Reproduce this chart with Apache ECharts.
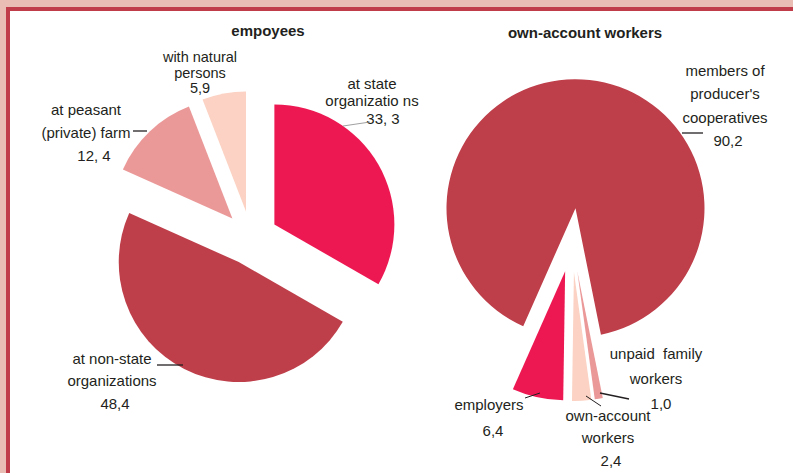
<!DOCTYPE html>
<html>
<head>
<meta charset="utf-8">
<script src="https://cdn.jsdelivr.net/npm/echarts@6/dist/echarts.min.js"></script>
<style>
html,body{margin:0;padding:0;background:#fff;}
#chart{width:793px;height:473px;}
</style>
</head>
<body>
<div id="chart"></div>
<script>
// ---- data ----
const titles = ['empoyees', 'own-account workers'];

const empCategories = ['at state organizations', 'at non-state organizations', 'at peasant (private) farm', 'with natural persons'];
const empValues = [33.3, 48.4, 12.4, 5.9];
const empLabelLines = [['at state', 'organizatio ns'], ['at non-state', 'organizations'], ['at peasant', '(private) farm'], ['with natural', 'persons']];
const empValueSep = [', ', ',', ', ', ','];

const ownCategories = ["members of producer's cooperatives", 'unpaid family workers', 'own-account workers', 'employers'];
const ownValues = [90.2, 1.0, 2.4, 6.4];
const ownLabelLines = [['members of', "producer's", 'cooperatives'], ['unpaid  family', 'workers'], ['own-account', 'workers'], ['employers']];
const ownValueSep = [',', ',', ',', ','];

// ---- styles / layout ----
const empColors = ['#ed1752', '#be3e4a', '#eb9898', '#fbd2c3'];
const ownColors = ['#be3e4a', '#eb9898', '#fbd2c3', '#ed1752'];
const textColor = '#231f20';
const FONT = '"Liberation Sans", Arial, sans-serif';

function fmt(v, sep) { return v.toFixed(1).replace('.', sep); }

// label blocks: [x, y of first line, line spacing, font size]
const empLabelPos = [[372, 83, 17.5, 15], [112, 358, 22.5, 15], [86, 109, 23, 15], [200, 57, 15.5, 14.5]];
const ownLabelPos = [[725, 70, 23.5, 15], [656, 353, 25, 15], [608, 415, 22.5, 15], [489, 404, 26, 15]];
const empValueX = [383, 115, 94, 200];
const ownValueX = [728, 661, 611, 493];

const graphics = [];
// frame
graphics.push({type: 'rect', shape: {x: 6, y: 7, width: 800, height: 480}, style: {fill: '#c03c48'}, z: 0, silent: true});
graphics.push({type: 'rect', shape: {x: 10, y: 11, width: 800, height: 480}, style: {fill: '#ffffff'}, z: 0, silent: true});

function addText(x, y, text, opts) {
  graphics.push({
    type: 'text', x: x, y: y, z: 100, silent: true,
    style: Object.assign({text: text, fill: textColor, font: '15px ' + FONT, textAlign: 'center', textVerticalAlign: 'middle'}, opts || {})
  });
}
function addLine(x1, y1, x2, y2, color, w) {
  graphics.push({type: 'line', z: 100, silent: true, shape: {x1: x1, y1: y1, x2: x2, y2: y2}, style: {stroke: color, lineWidth: w}});
}

// titles
addText(268, 30, titles[0], {font: 'bold 15px ' + FONT});
addText(585, 32, titles[1], {font: 'bold 15px ' + FONT});

function addLabels(lines, values, seps, pos, valX) {
  for (let i = 0; i < lines.length; i++) {
    const [x, y0, dy, fs] = pos[i];
    const f = {font: fs + 'px ' + FONT};
    lines[i].forEach(function (t, k) { addText(x, y0 + k * dy, t, f); });
    addText(valX[i], y0 + lines[i].length * dy, fmt(values[i], seps[i]), f);
  }
}
addLabels(empLabelLines, empValues, empValueSep, empLabelPos, empValueX);
addLabels(ownLabelLines, ownValues, ownValueSep, ownLabelPos, ownValueX);

// leader lines
addLine(343, 126, 370, 122, '#888', 0.8);
addLine(133, 131, 147, 131, '#231f20', 1.3);
addLine(157, 365, 183, 365, '#231f20', 1.3);
addLine(682, 133, 703, 133, '#231f20', 1.3);
addLine(600, 393, 629, 399, '#231f20', 1.3);
addLine(525, 398, 540, 393, '#231f20', 1.0);
addLine(586, 396, 601, 406, '#231f20', 1.0);

function pieData(names, values, colors) {
  return names.map(function (n, i) {
    return {name: n, value: values[i], selected: true, itemStyle: {color: colors[i]}};
  });
}

const chart = echarts.init(document.getElementById('chart'), null, {renderer: 'svg'});
chart.setOption({
  animation: false,
  backgroundColor: '#e9bcb4',
  graphic: graphics,
  series: [
    {
      type: 'pie',
      center: [251, 238],
      radius: 120,
      startAngle: 90,
      clockwise: true,
      selectedMode: 'multiple',
      selectedOffset: 27,
      label: {show: false},
      labelLine: {show: false},
      emphasis: {disabled: true},
      z: 5,
      data: pieData(empCategories, empValues, empColors)
    },
    {
      type: 'pie',
      center: [572, 240],
      radius: 129,
      startAngle: 246.1,
      clockwise: true,
      selectedMode: 'multiple',
      selectedOffset: 32,
      label: {show: false},
      labelLine: {show: false},
      emphasis: {disabled: true},
      z: 5,
      data: pieData(ownCategories, ownValues, ownColors)
    }
  ]
});
</script>
</body>
</html>
